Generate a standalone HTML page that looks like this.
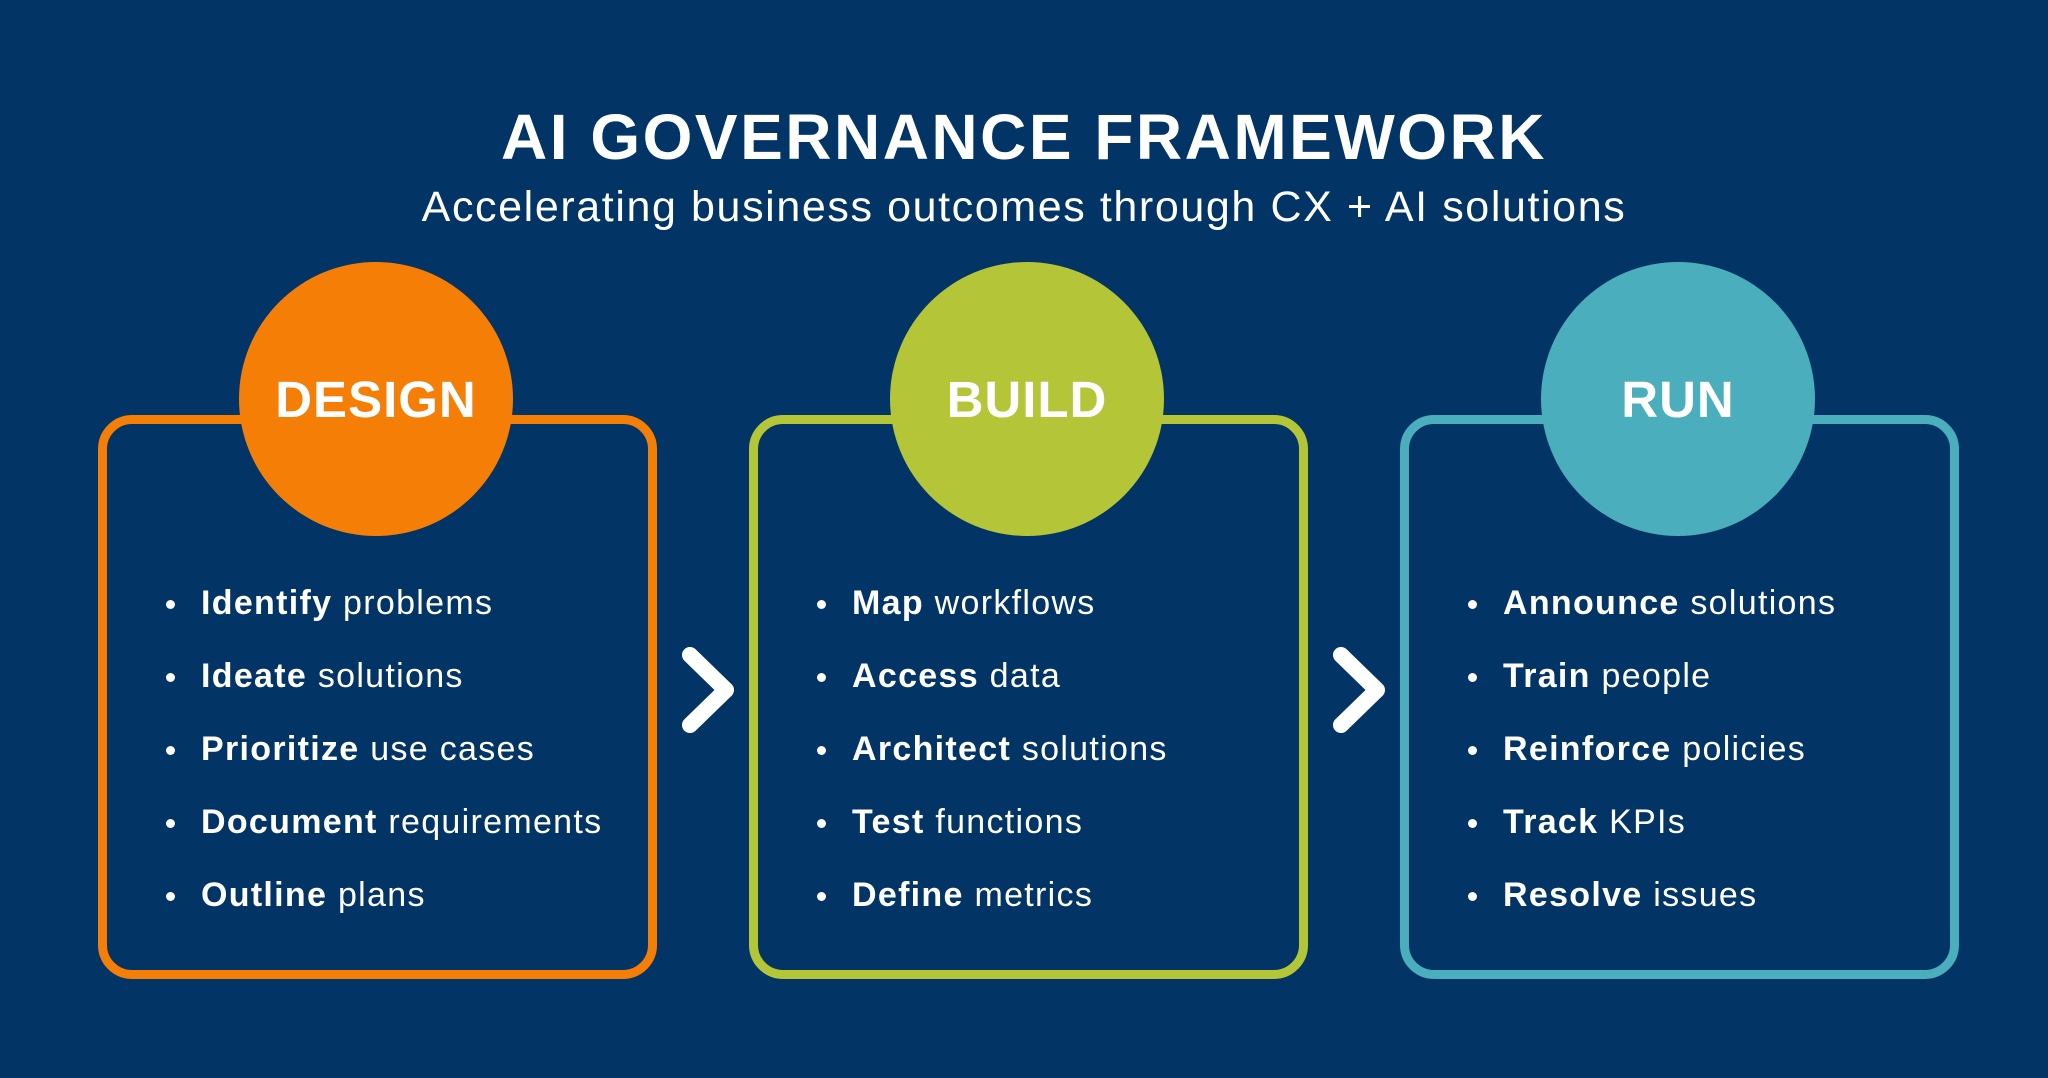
<!DOCTYPE html>
<html><head><meta charset="utf-8"><style>
html,body{margin:0;padding:0}
body{width:2048px;height:1078px;background:#023466;position:relative;overflow:hidden;font-family:"Liberation Sans",Arial,sans-serif;color:#fff}
.t{position:absolute;left:0;width:2048px;text-align:center}
.box{position:absolute;top:415px;width:541px;height:546px;border:9px solid;border-radius:34px;box-sizing:content-box}
.circ{position:absolute;top:262px;width:274px;height:274px;border-radius:50%;display:flex;align-items:center;justify-content:center;font-weight:bold;font-size:51px;letter-spacing:1px}
ul{position:absolute;top:575px;margin:0;padding:0;list-style:none;font-size:34px;letter-spacing:1.3px}
li{height:73px;line-height:56px;position:relative;padding-left:40px}
li:before{content:"";position:absolute;left:5px;top:25px;width:9px;height:9px;border-radius:50%;background:#fff}
b{font-weight:bold}
.chev{position:absolute;top:645px}
</style></head><body>
<div class="t" style="top:100px;font-size:64px;font-weight:bold;letter-spacing:2.5px">AI GOVERNANCE FRAMEWORK</div>
<div class="t" style="top:183px;font-size:43px;letter-spacing:1.6px">Accelerating business outcomes through CX + AI solutions</div>

<div class="box" style="left:98px;border-color:#F57F06"></div>
<div class="box" style="left:749px;border-color:#B4C637"></div>
<div class="box" style="left:1400px;border-color:#4AAEBC"></div>

<div class="circ" style="left:239px;background:#F57F06">DESIGN</div>
<div class="circ" style="left:890px;background:#B4C637">BUILD</div>
<div class="circ" style="left:1541px;background:#4AAEBC">RUN</div>

<ul style="left:161px">
<li><b>Identify</b> problems</li><li><b>Ideate</b> solutions</li><li><b>Prioritize</b> use cases</li><li><b>Document</b> requirements</li><li><b>Outline</b> plans</li></ul>
<ul style="left:812px">
<li><b>Map</b> workflows</li><li><b>Access</b> data</li><li><b>Architect</b> solutions</li><li><b>Test</b> functions</li><li><b>Define</b> metrics</li></ul>
<ul style="left:1463px">
<li><b>Announce</b> solutions</li><li><b>Train</b> people</li><li><b>Reinforce</b> policies</li><li><b>Track</b> KPIs</li><li><b>Resolve</b> issues</li></ul>

<svg class="chev" style="left:678px" width="60" height="90"><polyline points="12,10 48,45 12,80" fill="none" stroke="#fff" stroke-width="16" stroke-linecap="round" stroke-linejoin="round"/></svg>
<svg class="chev" style="left:1329px" width="60" height="90"><polyline points="12,10 48,45 12,80" fill="none" stroke="#fff" stroke-width="16" stroke-linecap="round" stroke-linejoin="round"/></svg>
</body></html>
